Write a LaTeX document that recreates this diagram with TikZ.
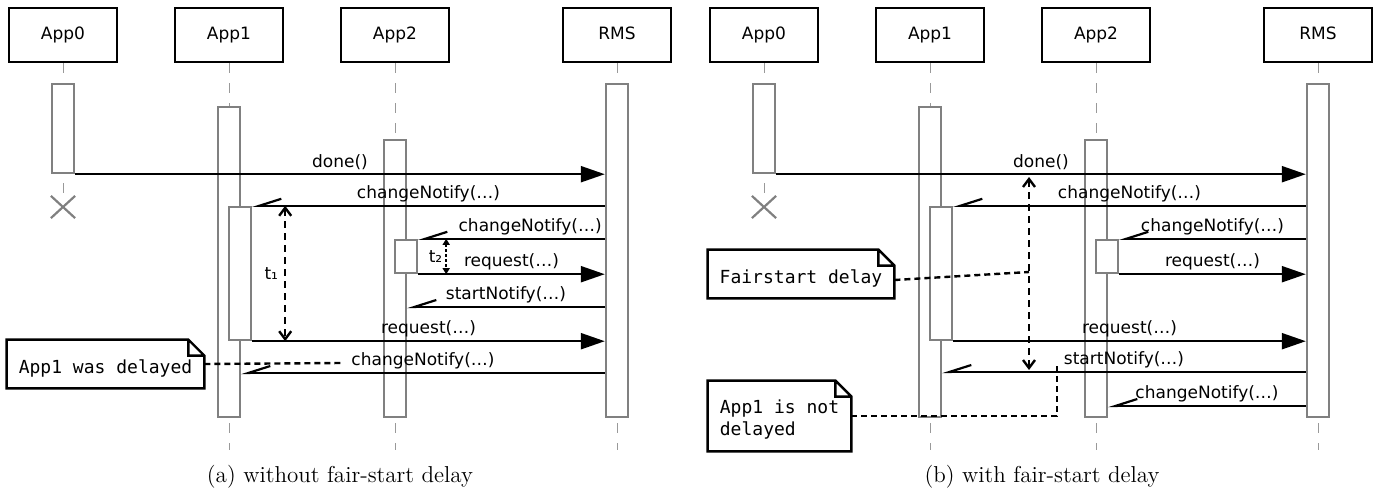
\documentclass[tikz,border=0pt]{standalone}
\usepackage{fontspec}
\newfontfamily\diagfont{DejaVu Sans}
\newfontfamily\notefont{DejaVu Sans Mono}
\usetikzlibrary{arrows.meta,shapes.misc,positioning}

\tikzset{
  actor/.style={rectangle, draw, line width=1.2pt, minimum width=54pt,
    minimum height=27pt, inner sep=0pt, text height=6.4pt, text depth=1.6pt,
    font=\diagfont\fontsize{8.5}{10}\selectfont},
  lifeline/.style={draw=gray!80, line width=0.5pt, dash pattern=on 5pt off 5pt},
  bar/.style={rectangle, draw=gray, fill=white, line width=1.2pt,
    minimum width=11pt, inner sep=0pt},
  call/.style={draw, line width=1.1pt, -{Triangle[length=12pt,width=8pt]}},
  reply/.style={draw, line width=1.1pt, -{Straight Barb[harpoon,swap,length=11pt,width=7pt]}},
  msg/.style={above, inner sep=1.5pt, font=\diagfont\fontsize{8.5}{10}\selectfont},
  span/.style={draw, line width=1.2pt, dash pattern=on 3.5pt off 2.5pt,
    {Straight Barb[length=4pt,width=6pt]}-{Straight Barb[length=4pt,width=6pt]}},
  tick/.style={draw, line width=0.9pt, dash pattern=on 1.5pt off 1pt,
    {Triangle[length=3pt,width=3.5pt]}-{Triangle[length=3pt,width=3.5pt]}},
  link/.style={draw, line width=1.2pt, dash pattern=on 3pt off 2pt},
  note/.style={fill=white, inner sep=0pt, align=left, text height=11pt,
    font=\notefont\fontsize{9}{11}\selectfont},
  notebox/.style={draw, line width=1.2pt},
  kill/.style={cross out, draw=gray, line width=1.1pt, minimum width=11pt,
    minimum height=10pt, inner sep=0pt},
  caption/.style={font=\fontsize{11.5}{13}\selectfont}
}

\begin{document}
\begin{tikzpicture}[x=0.5pt, y=-0.5pt]
  \useasboundingbox (0,0) rectangle (1380,487);
  % both panels share actors, activations and the first messages
  \foreach \dx/\p in {0/a,701/b} {
    \begin{scope}[xshift=\dx*0.5pt]
      % actors
      \node[actor] (app0\p) at (63,35) {App0};
      \node[actor] (app1\p) at (229,35) {App1};
      \node[actor] (app2\p) at (395,35) {App2};
      \node[actor] (rms\p) at (617,35) {RMS};
      \coordinate (bot\p) at (0,450);
      \node[kill] (x\p) at (63,207) {};
      % lifelines
      \draw[lifeline] (app0\p.south) -- (x\p.north);
      \draw[lifeline] (app1\p.south) -- (app1\p.south |- bot\p);
      \draw[lifeline] (app2\p.south) -- (app2\p.south |- bot\p);
      \draw[lifeline] (rms\p.south) -- (rms\p.south |- bot\p);
      % activations
      \node[bar, minimum height=44.5pt] (a0\p) at (63,128.5) {};
      \node[bar, minimum height=155pt] (a1\p) at (229,262) {};
      \node[bar, minimum height=138.5pt] (a2\p) at (395,278.5) {};
      \node[bar, minimum height=166.5pt] (ar\p) at (617,250.5) {};
      \node[bar, minimum height=66.5pt] (n1\p) at (240,273.5) {};
      \node[bar, minimum height=16.5pt] (n2\p) at (406,256.5) {};
      % messages
      \draw[call] (a0\p.south east) -- node[msg] {done()} (ar\p.west |- a0\p.south east);
      \draw[reply] (ar\p.west |- n1\p.north) -- node[msg] {changeNotify(…)} (n1\p.north east);
      \draw[call] (n2\p.south east) -- node[msg] {request(…)} (ar\p.west |- n2\p.south);
      \draw[call] (n1\p.south east) -- node[msg] {request(…)} (ar\p.west |- n1\p.south);
    \end{scope}
  }

  % (a) without fair-start delay
  \coordinate (snrowa) at (0,307);
  \coordinate (cnrowa) at (0,373);
  \draw[reply] (ara.west |- n2a.north) -- node[msg, pos=0.4] {changeNotify(…)} (n2a.north east);
  \draw[tick] ([xshift=14pt]n2a.north east) -- node[left, inner sep=1.5pt, font=\diagfont\fontsize{8.5}{10}\selectfont] {t₂} ([xshift=14pt]n2a.south east);
  \draw[reply] (ara.west |- snrowa) -- node[msg] {startNotify(…)} (a2a.east |- snrowa);
  \draw[span] ([xshift=16.5pt]n1a.north east) -- node[left, inner sep=3pt, font=\diagfont\fontsize{8.5}{10}\selectfont] {t₁} ([xshift=16.5pt]n1a.south east);
  \draw[reply] (ara.west |- cnrowa) -- node[msg] {changeNotify(…)} (a1a.east |- cnrowa);
  \node[note, minimum width=98.5pt, minimum height=24pt] (notea) at (105.5,364) {App1 was delayed};
  \coordinate (nenda) at (341,363);
  \draw[link] (notea.east) -- (nenda);

  % (b) with fair-start delay
  \coordinate (snrowb) at (0,372);
  \coordinate (cnrowb) at (0,406);
  \draw[reply] (arb.west |- n2b.north) -- node[msg] {changeNotify(…)} (n2b.north east);
  \draw[reply] (arb.west |- snrowb) -- node[msg] {startNotify(…)} (a1b.east |- snrowb);
  \draw[reply] (arb.west |- cnrowb) -- node[msg] {changeNotify(…)} (a2b.east |- cnrowb);
  \coordinate (fstop) at (1029,177);
  \coordinate (fsbot) at (1029,370);
  \coordinate (fsmid) at (1029,272);
  \draw[span] (fstop) -- (fsbot);
  \node[note, minimum width=93pt, minimum height=24pt] (noteb) at (801,274) {Fairstart delay};
  \draw[link] ([yshift=-3pt]noteb.east) -- (fsmid);
  \node[note, text height=21.8pt, minimum width=71.5pt, minimum height=35pt] (notec) at (779.5,416) {App1 is not\\delayed};
  \coordinate (ndend) at (1057,362);
  \draw[link] (notec.east) -| (ndend);

  % note outlines with folded corner
  \foreach \n in {notea,noteb,notec}
    \draw[notebox] (\n.north west) -- ([xshift=-8pt]\n.north east)
      -- ([yshift=-8pt]\n.north east) -- (\n.south east) -- (\n.south west) -- cycle
      ([xshift=-8pt]\n.north east) |- ([yshift=-8pt]\n.north east);

  % captions
  \node[caption] (capa) at (340,477) {(a) without fair-start delay};
  \node[caption] (capb) at (1042,477) {(b) with fair-start delay};
\end{tikzpicture}
\end{document}
